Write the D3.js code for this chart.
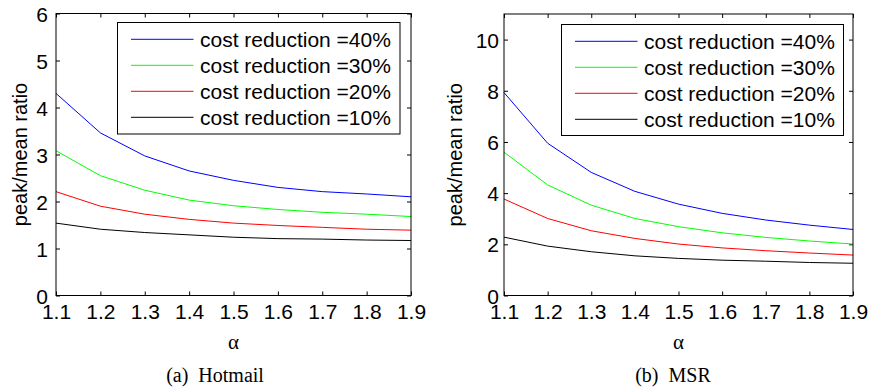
<!DOCTYPE html>
<html><head><meta charset="utf-8">
<script src="https://cdn.jsdelivr.net/npm/d3@7"></script>
<style>body{margin:0;background:#fff;}svg{display:block;}</style>
</head><body>
<svg id="c" width="869" height="391"></svg>
<script>
const alphas = [1.1,1.2,1.3,1.4,1.5,1.6,1.7,1.8,1.9];
const seriesNames = ["cost reduction =40%","cost reduction =30%","cost reduction =20%","cost reduction =10%"];
const seriesColors = ["#0000ff","#00ff00","#ff0000","#000000"];
// Hotmail
const hotmail40 = [4.30,3.46,2.97,2.65,2.45,2.30,2.21,2.16,2.10];
const hotmail30 = [3.08,2.55,2.24,2.03,1.91,1.83,1.77,1.73,1.68];
const hotmail20 = [2.21,1.90,1.73,1.62,1.54,1.49,1.45,1.41,1.39];
const hotmail10 = [1.54,1.41,1.34,1.29,1.24,1.21,1.20,1.18,1.17];
// MSR
const msr40 = [7.93,5.95,4.81,4.07,3.57,3.21,2.95,2.75,2.58];
const msr30 = [5.60,4.32,3.53,3.01,2.69,2.45,2.27,2.13,2.01];
const msr20 = [3.77,3.01,2.53,2.23,2.01,1.86,1.75,1.66,1.58];
const msr10 = [2.28,1.93,1.71,1.55,1.45,1.38,1.34,1.29,1.26];
const hotmailYTicks = [0,1,2,3,4,5,6];
const msrYTicks = [0,2,4,6,8,10];
const xTicks = alphas;
const yLabel = "peak/mean ratio";
const xLabel = "α";
const captions = ["(a)  Hotmail","(b)  MSR"];

const svg = d3.select("#c");
const sans = "'Liberation Sans', Arial, sans-serif";
const serif = "'Liberation Serif', 'Times New Roman', serif";
const FS = 21;

function panel(o){
  const x = d3.scaleLinear().domain([1.1,1.9]).range([o.left,o.right]);
  const y = d3.scaleLinear().domain(o.ydom).range([o.bottom,o.top]);
  const g = svg.append("g");
  const tl = 4;
  const ax = (gen, tr) => {
    const a = g.append("g").attr("transform",tr).call(gen);
    a.select(".domain").remove();
    a.selectAll("line").attr("stroke","#000").attr("stroke-width",1);
    a.selectAll("text").attr("font-family",sans).attr("font-size",FS).attr("fill","#000");
    return a;
  };
  ax(d3.axisBottom(x).tickValues(xTicks).tickSize(-tl).tickPadding(9).tickFormat(d3.format(".1f")),`translate(0,${o.bottom})`);
  ax(d3.axisTop(x).tickValues(xTicks).tickSize(-tl).tickFormat(""),`translate(0,${o.top})`);
  ax(d3.axisLeft(y).tickValues(o.yticks).tickSize(-tl).tickPadding(o.ypad).tickFormat(d3.format("d")),`translate(${o.left},0)`)
    .selectAll("text").attr("dy","0.36em");
  ax(d3.axisRight(y).tickValues(o.yticks).tickSize(-tl).tickFormat(""),`translate(${o.right},0)`);
  const line = d3.line().x((d,i)=>x(alphas[i])).y(d=>y(d));
  o.series.forEach((s,i)=>{
    g.append("path").datum(s).attr("d",line).attr("fill","none")
      .attr("stroke",seriesColors[i]).attr("stroke-width",1);
  });
  g.append("rect").attr("x",o.left).attr("y",o.top).attr("width",o.right-o.left).attr("height",o.bottom-o.top)
    .attr("fill","none").attr("stroke","#000").attr("stroke-width",1);
  const L = o.legend;
  g.append("rect").attr("x",L.x).attr("y",L.y).attr("width",L.w).attr("height",L.h)
    .attr("fill","#fff").attr("stroke","#000").attr("stroke-width",1);
  seriesNames.forEach((n,i)=>{
    const cy = L.y + 16.8 + i*26;
    g.append("line").attr("x1",L.x+13.5).attr("x2",L.x+76).attr("y1",cy).attr("y2",cy)
      .attr("stroke",seriesColors[i]).attr("stroke-width",1);
    g.append("text").attr("x",L.x+82.5).attr("y",cy).attr("dy","0.36em")
      .attr("font-family",sans).attr("font-size",FS).text(n);
  });
  g.append("text").attr("transform",`translate(${o.ylabX},${(o.top+o.bottom)/2}) rotate(-90)`)
    .attr("text-anchor","middle").attr("dy","0.35em").attr("font-family",sans).attr("font-size",20).text(yLabel);
  g.append("text").attr("x",(o.left+o.right)/2).attr("y",342).attr("text-anchor","middle").attr("dy","0.35em")
    .attr("font-family",serif).attr("font-size",21).text(xLabel);
  g.append("text").attr("x",o.capX).attr("y",375).attr("text-anchor","middle").attr("dy","0.35em")
    .attr("font-family",serif).attr("font-size",20).attr("xml:space","preserve").text(o.caption);
}

panel({left:56,right:411,top:13.5,bottom:295.5,ydom:[0,6],yticks:hotmailYTicks,ypad:8,
  series:[hotmail40,hotmail30,hotmail20,hotmail10],
  legend:{x:117.5,y:22.5,w:282.5,h:111.5},ylabX:20,capX:215,caption:captions[0]});
panel({left:504,right:853,top:14,bottom:295.5,ydom:[0,11],yticks:msrYTicks,ypad:5,
  series:[msr40,msr30,msr20,msr10],
  legend:{x:561.5,y:24.5,w:282,h:111},ylabX:455,capX:673,caption:captions[1]});
</script>
</body></html>
